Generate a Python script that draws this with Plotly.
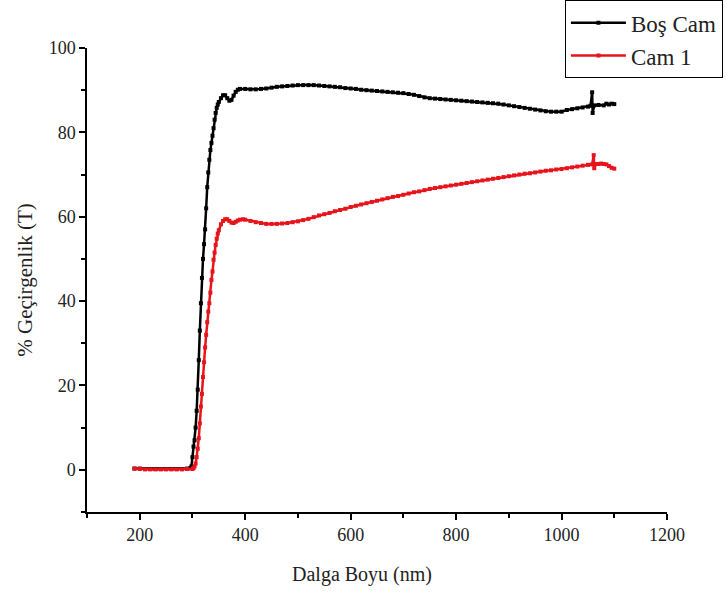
import plotly.graph_objects as go

# Boş Cam (uncoated glass) readings
bos_nm = [190, 200, 210, 220, 230, 240, 250, 260, 270, 280, 290, 296, 298,
          300, 302, 304, 306, 308, 310, 312, 314, 316, 318, 320, 322, 324, 326, 328,
          330, 332, 334, 336, 338, 340, 342, 344, 346, 348, 350, 354, 358, 362, 366,
          370, 374, 378, 382, 386, 390, 400, 410, 420, 430, 440, 450, 460, 470, 480,
          490, 500, 510, 520, 530, 540, 550, 560, 570, 580, 590, 600, 610, 620, 630,
          640, 650, 660, 670, 680, 690, 700, 710, 720, 730, 740, 750, 760, 770, 780,
          790, 800, 810, 820, 830, 840, 850, 860, 870, 880, 890, 900, 910, 920, 930,
          940, 950, 960, 970, 980, 990, 1000, 1010, 1020, 1030, 1040, 1050, 1055,
          1058, 1059, 1062, 1070, 1080, 1085, 1090, 1095, 1100]
bos_t = [0.3, 0.3, 0.2, 0.2, 0.2, 0.2, 0.2, 0.2, 0.2, 0.2, 0.3, 0.4, 0.8,
         3.0, 5.5, 7.0, 10.0, 14.0, 19.0, 26.0, 33.0, 39.5, 45.5, 50.0, 53.5, 57.0, 62.0, 67.0,
         70.5, 73.5, 75.8, 77.5, 79.2, 81.0, 83.0, 84.6, 85.8, 86.6, 87.2, 88.1, 88.8, 88.8, 88.1,
         87.5, 87.7, 88.7, 89.6, 90.1, 90.3, 90.3, 90.2, 90.2, 90.3, 90.4, 90.6, 90.8, 90.9, 91.0,
         91.1, 91.2, 91.2, 91.2, 91.2, 91.1, 91.0, 90.9, 90.8, 90.7, 90.5, 90.4, 90.3, 90.1, 90.0,
         89.9, 89.8, 89.7, 89.6, 89.5, 89.4, 89.3, 89.1, 88.9, 88.6, 88.3, 88.1, 88.0, 87.9, 87.8,
         87.7, 87.6, 87.5, 87.4, 87.3, 87.2, 87.1, 87.0, 86.9, 86.8, 86.6, 86.4, 86.2, 86.0, 85.8,
         85.6, 85.4, 85.2, 85.0, 84.9, 84.9, 84.9, 85.3, 85.5, 85.7, 85.9, 86.1, 86.3,
         89.5, 84.6, 86.4, 86.5, 86.4, 86.8, 86.6, 86.8, 86.7]

# Cam 1 readings
cam1_nm = [190, 200, 210, 220, 230, 240, 250, 260, 270, 280, 290, 300, 302, 304,
           306, 308, 310, 312, 314, 316, 318, 320, 322, 324, 326, 328, 330, 332, 334,
           336, 338, 340, 342, 344, 346, 348, 350, 354, 358, 362, 366, 370, 374, 378,
           382, 386, 390, 396, 400, 410, 420, 430, 440, 450, 460, 470, 480, 490, 500,
           510, 520, 530, 540, 550, 560, 570, 580, 590, 600, 610, 620, 630, 640, 650,
           660, 670, 680, 690, 700, 710, 720, 730, 740, 750, 760, 770, 780, 790, 800,
           810, 820, 830, 840, 850, 860, 870, 880, 890, 900, 910, 920, 930, 940, 950,
           960, 970, 980, 990, 1000, 1010, 1020, 1030, 1040, 1050, 1058, 1061, 1062,
           1065, 1070, 1075, 1080, 1085, 1090, 1095, 1100]
cam1_t = [0.3, 0.2, 0.1, 0.1, 0.1, 0.1, 0.1, 0.1, 0.1, 0.1, 0.2, 0.2, 0.4, 0.8,
          1.5, 3.0, 5.0, 7.5, 11.0, 15.0, 18.0, 22.0, 25.5, 29.0, 32.0, 35.0, 37.5, 39.5, 42.0,
          45.0, 47.0, 49.8, 51.5, 53.3, 54.8, 56.0, 56.8, 58.2, 59.0, 59.4, 59.4, 59.0, 58.6, 58.5,
          58.8, 59.1, 59.3, 59.4, 59.3, 59.0, 58.7, 58.5, 58.3, 58.3, 58.3, 58.4, 58.5, 58.7, 58.9,
          59.2, 59.5, 59.9, 60.3, 60.6, 60.9, 61.3, 61.6, 61.9, 62.3, 62.6, 62.9, 63.2, 63.5, 63.8,
          64.1, 64.4, 64.7, 64.9, 65.2, 65.5, 65.8, 66.0, 66.3, 66.6, 66.8, 67.0, 67.2, 67.4, 67.6,
          67.8, 68.0, 68.2, 68.4, 68.6, 68.8, 69.0, 69.2, 69.4, 69.6, 69.8, 70.0, 70.2, 70.3, 70.5,
          70.7, 70.9, 71.0, 71.2, 71.3, 71.5, 71.7, 71.9, 72.1, 72.3, 72.4, 74.6, 71.5,
          72.5, 72.5, 72.6, 72.5, 72.4, 72.0, 71.6, 71.4]

x_ticks = [200, 400, 600, 800, 1000, 1200]
y_ticks = [0, 20, 40, 60, 80, 100]

serif = "Times New Roman, Liberation Serif, DejaVu Serif, serif"
txt = '#222'

fig = go.Figure()
fig.add_trace(
    go.Scatter(
        x=bos_nm,
        y=bos_t,
        name='Boş Cam',
        mode='lines+markers',
        line=dict(color='black', width=2.5),
        marker=dict(symbol='square', size=4, color='black')
    )
)
fig.add_trace(
    go.Scatter(
        x=cam1_nm,
        y=cam1_t,
        name='Cam 1',
        mode='lines+markers',
        line=dict(color='#e8141b', width=2.5),
        marker=dict(symbol='square', size=4, color='#e8141b')
    )
)
fig.update_layout(
    width=726,
    height=598,
    margin=dict(l=87, r=59, t=48, b=86, autoexpand=False),
    paper_bgcolor='white',
    plot_bgcolor='white',
    font=dict(family=serif, color=txt, size=16),
    showlegend=True,
    legend=dict(
        x=0.824,
        y=1.103,
        xanchor='left',
        yanchor='top',
        bordercolor='black',
        borderwidth=1,
        bgcolor='white',
        font=dict(family=serif, size=23, color=txt),
        itemwidth=55,
        tracegroupgap=0
    ),
    xaxis=dict(
        range=[100, 1200],
        tickvals=x_ticks,
        showgrid=False,
        zeroline=False,
        showline=True,
        linecolor='black',
        linewidth=1.5,
        ticks='outside',
        ticklen=6,
        tickwidth=1.5,
        tickcolor='black',
        minor=dict(dtick=100, tick0=100, ticks='outside', ticklen=4, tickwidth=1.5, tickcolor='black'),
        tickfont=dict(family=serif, size=18, color=txt),
    ),
    yaxis=dict(
        range=[-10, 100],
        tickvals=y_ticks,
        showgrid=False,
        zeroline=False,
        showline=True,
        linecolor='black',
        linewidth=1.5,
        ticks='outside',
        ticklen=6,
        tickwidth=1.5,
        tickcolor='black',
        minor=dict(dtick=10, tick0=10, ticks='outside', ticklen=4, tickwidth=1.5, tickcolor='black'),
        tickfont=dict(family=serif, size=18, color=txt),
        title=dict(text='% Geçirgenlik (T)', font=dict(family=serif, size=21, color=txt), standoff=10)
    ),
    # x title sits a bit left of the axis centre in the original
    annotations=[
        dict(
            text='Dalga Boyu (nm)',
            xref='paper', yref='paper',
            x=0.474, y=-0.135,
            xanchor='center', yanchor='middle',
            showarrow=False,
            font=dict(family=serif, size=20, color=txt)
        )
    ],
)

# drop the page's default body margin so the figure sits at the window origin
fig.write_html(
    "out.html",
    config={'displayModeBar': False},
    post_script="document.body.style.margin='0px';"
)
